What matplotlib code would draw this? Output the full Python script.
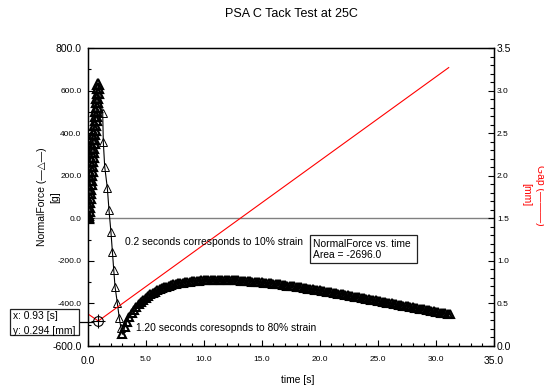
import numpy as np
import matplotlib
matplotlib.use("Agg")
import matplotlib.pyplot as plt
from matplotlib.patches import Rectangle
from matplotlib.ticker import MultipleLocator

plt.rcParams['font.family'] = ['Liberation Sans', 'DejaVu Sans']

# ---------------- data ----------------
rise_force = [0, 5, 15, 32, 53, 75, 96, 117, 139, 160, 182, 203, 224, 246, 267, 289,
              310, 331, 353, 374, 396, 417, 438, 460, 481, 503, 524, 545, 567, 588, 610, 630]
rise_dt = 0.03

fall_time = [1.31, 1.36, 1.48, 1.71, 1.85, 2.02, 2.14, 2.26, 2.37, 2.57, 2.74, 2.88]
fall_force = [493, 360, 243, 141, 39, -66, -157, -243, -321, -399, -470, -515]

tail_start = 3.0
tail_dt = 0.2
tail_force = [-545, -512, -486, -465, -446, -430, -416, -404, -393, -383,
              -374, -366, -358, -351, -345, -339, -334, -329, -325, -321,
              -317, -314, -311, -308, -306, -304, -302, -300, -299, -297,
              -296, -295, -294, -293, -292, -292, -291, -291, -290, -290,
              -290, -290, -290, -290, -290, -290, -290, -291, -291, -292,
              -292, -293, -293, -294, -295, -296, -297, -298, -299, -300,
              -301, -302, -303, -305, -306, -307, -309, -310, -311, -313,
              -314, -316, -317, -319, -320, -322, -323, -325, -327, -328,
              -330, -332, -333, -335, -337, -339, -341, -342, -344, -346,
              -348, -350, -352, -354, -356, -358, -360, -362, -364, -366,
              -368, -370, -372, -374, -376, -378, -380, -382, -384, -386,
              -388, -390, -392, -394, -396, -398, -400, -402, -404, -406,
              -408, -410, -412, -414, -416, -418, -420, -422, -424, -426,
              -428, -430, -432, -434, -436, -438, -440, -443, -445, -447,
              -449, -452]

gap_time = [0.0, 0.93, 31.1]
gap_value = [0.38, 0.294, 3.27]

cursor_t, cursor_gap = 0.93, 0.294

x_ticks = [0.0, 5.0, 10.0, 15.0, 20.0, 25.0, 30.0, 35.0]
y_ticks = [-600.0, -400.0, -200.0, 0.0, 200.0, 400.0, 600.0, 800.0]
y2_ticks = [0.0, 0.5, 1.0, 1.5, 2.0, 2.5, 3.0, 3.5]

# ---------------- build series ----------------
rise_time = np.arange(len(rise_force)) * rise_dt
tail_time = tail_start + np.arange(len(tail_force)) * tail_dt
force_time = np.concatenate([rise_time, fall_time, tail_time])
force = np.concatenate([rise_force, fall_force, tail_force])

W, H = 544, 391
fig = plt.figure(figsize=(W / 100, H / 100), dpi=100)
L, R, T, B = 87.5, 494, 48, 346
ax = fig.add_axes([L / W, 1 - B / H, (R - L) / W, (B - T) / H])

ax.axhline(0, color='#808080', lw=1.0, zorder=1)
ax.plot(force_time, force, '-', color='black', lw=0.8, zorder=3)
# sparse falling section: open triangles
ax.plot(fall_time, fall_force, ls='none', marker='^', mfc='none',
        mec='black', ms=6, mew=0.7, zorder=3)
# densely sampled sections: heavily overlapping triangles
ax.plot(rise_time, rise_force, ls='none', marker='^', mfc='none',
        mec='black', ms=7, mew=1.6, zorder=3)
ax.plot(tail_time, tail_force, ls='none', marker='^', mfc='none',
        mec='black', ms=5.8, mew=1.5, zorder=3)

ax.set_xlim(0, 35)
ax.set_ylim(-600, 800)
ax.set_xticks(x_ticks, [f"{v:.1f}" for v in x_ticks])
ax.set_yticks(y_ticks, [f"{v:.1f}" for v in y_ticks])
ax.xaxis.set_minor_locator(MultipleLocator(1))
ax.yaxis.set_minor_locator(MultipleLocator(100))
ax.tick_params(axis='x', which='major', direction='in', length=4, width=0.8, pad=7.5, labelsize=6)
ax.tick_params(axis='x', which='minor', direction='in', length=2.2, width=0.8)
ax.tick_params(axis='y', which='major', direction='in', length=4, width=0.8, pad=4.3, labelsize=6)
ax.tick_params(axis='y', which='minor', direction='in', length=2.2, width=0.8)
for s in ax.spines.values():
    s.set_linewidth(1.0)

ax2 = ax.twinx()
ax2.plot(gap_time, gap_value, '-', color='#ff0000', lw=0.8, zorder=2)
ax2.plot([cursor_t], [cursor_gap], marker='o', ms=7, mfc='none', mec='black', mew=0.8)
ax2.plot([cursor_t], [cursor_gap], marker='+', ms=10, mec='black', mew=0.8)
ax2.set_ylim(0, 3.5)
ax2.set_xlim(0, 35)
ax2.set_yticks(y2_ticks, [f"{v:.1f}" for v in y2_ticks])
ax2.yaxis.set_minor_locator(MultipleLocator(0.1))
ax2.tick_params(axis='y', which='major', direction='in', length=4.5, width=0.8, pad=2.2, labelsize=6)
ax2.tick_params(axis='y', which='minor', direction='in', length=2.8, width=0.8)

# bigger end labels
for axis in (ax.xaxis, ax.yaxis, ax2.yaxis):
    ticks = axis.get_major_ticks()
    for tk in (ticks[0], ticks[-1]):
        tk.label1.set_fontsize(7.5)
        tk.label2.set_fontsize(7.5)

fs = 7.4
# title and labels
fig.text(291 / W, 1 - 14 / H, "PSA C Tack Test at 25C", ha='center', va='center', fontsize=9)
fig.text(298 / W, 1 - 380 / H, "time [s]", ha='center', va='center', fontsize=fs)
fig.text(49 / W, 1 - 197 / H, "NormalForce (—△—)\n[g]", rotation=90, ha='center', va='center',
         fontsize=7.5, linespacing=1.4, multialignment='center')
fig.text(533 / W, 1 - 195 / H, "Gap (———)\n[mm]", rotation=270, ha='center', va='center',
         fontsize=7.5, linespacing=1.4, multialignment='center', color='#ff0000')

# annotations
fig.text(125 / W, 1 - 242 / H, "0.2 seconds corresponds to 10% strain", ha='left', va='center', fontsize=fs)
fig.text(136 / W, 1 - 328 / H, "1.20 seconds coresopnds to 80% strain", ha='left', va='center', fontsize=fs)

fig.patches.append(Rectangle((310 / W, 1 - 263.3 / H), 107 / W, 28.3 / H, transform=fig.transFigure,
                             fill=True, facecolor='white', edgecolor='#222222', lw=0.9, zorder=5))
fig.text(312.7 / W, 1 - 244 / H, "NormalForce vs. time", ha='left', va='center', fontsize=fs, zorder=6)
fig.text(312.7 / W, 1 - 255.5 / H, "Area = -2696.0", ha='left', va='center', fontsize=fs, zorder=6)

fig.patches.append(Rectangle((10 / W, 1 - 335 / H), 69 / W, 26 / H, transform=fig.transFigure,
                             fill=True, facecolor='white', edgecolor='#222222', lw=0.9, zorder=5))
fig.text(13.3 / W, 1 - 316 / H, "x: 0.93 [s]", ha='left', va='center', fontsize=fs, zorder=6)
fig.text(13.3 / W, 1 - 330.5 / H, "y: 0.294 [mm]", ha='left', va='center', fontsize=fs, zorder=6)
fig.lines.append(plt.Line2D([79 / W, 93 / W], [1 - 321.5 / H, 1 - 321.5 / H], transform=fig.transFigure,
                            color='black', lw=0.9))

fig.savefig("out.png", dpi=100)
